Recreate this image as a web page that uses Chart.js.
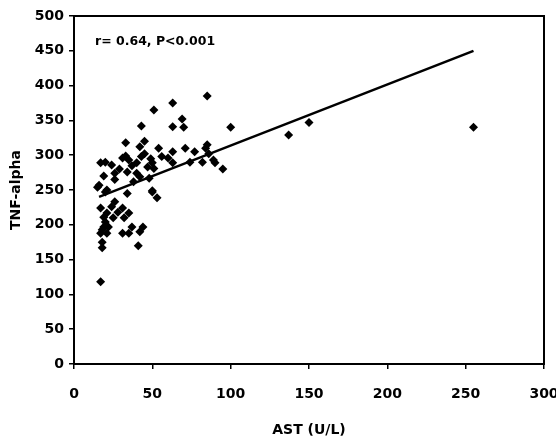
<!DOCTYPE html>
<html>
<head>
<meta charset="utf-8">
<script src="https://cdn.jsdelivr.net/npm/chart.js@4.4.0/dist/chart.umd.min.js"></script>
<style>
    html, body { margin: 0; padding: 0; background: #fff; }
    #wrap { width: 556px; height: 441px; position: relative; }
</style>
</head>
<body>
<div id="wrap"><canvas id="chartCanvas"></canvas></div>
<script>
// AST (U/L) vs TNF-alpha
const astValues = [
    85, 63, 51, 69, 63, 70, 43, 100, 33, 45, 85, 42, 54, 63, 71, 77, 84, 86,
    82, 89, 95, 90, 74, 63, 56, 60, 49, 50, 20, 17, 24, 31, 35, 37, 40, 47,
    51, 45, 43, 33, 29, 26, 19, 26, 34, 40, 42, 48, 38, 16, 21, 50,
    15, 20, 34, 50, 53, 17, 26, 24, 31, 28, 21, 35, 32, 25, 20, 22, 18, 17,
    21, 37, 31, 35, 44, 42, 18, 18, 41, 17, 19, 19,
    137, 150, 255
];
const tnfValues = [
    385, 375, 365, 352, 341, 340, 342, 340, 318, 320, 315, 312, 310, 305, 310, 305, 310, 302,
    290, 293, 280, 289, 290, 289, 298, 296, 295, 289, 290, 289, 286, 296, 293, 285, 289, 283,
    281, 302, 298, 299, 280, 274, 270, 265, 276, 274, 269, 267, 262, 257, 250, 249,
    254, 247, 245, 247, 239, 224, 233, 226, 224, 218, 217, 217, 210, 210, 204, 197, 193, 188,
    188, 197, 188, 188, 197, 190, 175, 167, 170, 118, 197, 211,
    329, 347, 340
];
// regression line ends
const fitX = [16, 255];
const fitY = [240, 450];
const xTicks = [0, 300, 50];
const yTicks = [0, 500, 50];
const annotation = 'r= 0.64, P<0.001';

const points = astValues.map((x, i) => ({ x: x, y: tnfValues[i] }));
const fitPoints = fitX.map((x, i) => ({ x: x, y: fitY[i] }));

const tickFont = { family: '"DejaVu Sans", sans-serif', size: 14, weight: 'bold' };
const titleFont = { family: '"DejaVu Sans", sans-serif', size: 14, weight: 'bold' };

// frame around plot + r/P text
const framePlugin = {
    id: 'frame',
    afterDraw(chart) {
        const a = chart.chartArea;
        const ctx = chart.ctx;
        ctx.save();
        ctx.strokeStyle = '#000';
        ctx.lineWidth = 2;
        ctx.strokeRect(a.left, a.top, a.right - a.left, a.bottom - a.top);
        ctx.fillStyle = '#000';
        ctx.font = 'bold 12.5px "DejaVu Sans", sans-serif';
        ctx.textBaseline = 'middle';
        ctx.fillText(annotation, 95, 42);
        ctx.restore();
    }
};

new Chart(document.getElementById('chartCanvas'), {
    type: 'scatter',
    data: {
        datasets: [
            {
                type: 'line',
                data: fitPoints,
                borderColor: '#000',
                borderWidth: 2.5,
                pointRadius: 0,
                fill: false
            },
            {
                data: points,
                pointStyle: 'rectRot',
                pointRadius: 4.5,
                backgroundColor: '#000',
                borderColor: '#000',
                borderWidth: 0
            }
        ]
    },
    options: {
        responsive: true,
        maintainAspectRatio: false,
        animation: false,
        layout: { padding: { left: 0, top: 16, right: 12, bottom: 0 } },
        plugins: {
            legend: { display: false },
            tooltip: { enabled: false }
        },
        scales: {
            x: {
                type: 'linear',
                min: xTicks[0],
                max: xTicks[1],
                afterFit: (s) => { s.height = 77; s.paddingLeft = 0; s.paddingRight = 0; },
                ticks: { stepSize: xTicks[2], color: '#000', font: tickFont, padding: 17, maxRotation: 0 },
                grid: { drawOnChartArea: false, drawTicks: true, tickLength: 5, color: '#000', lineWidth: 1.5 },
                border: { color: '#000', width: 2 },
                title: { display: true, text: 'AST (U/L)', color: '#000', font: titleFont, padding: 2 }
            },
            y: {
                type: 'linear',
                min: yTicks[0],
                max: yTicks[1],
                afterFit: (s) => { s.width = 74; s.paddingTop = 0; s.paddingBottom = 0; },
                ticks: { stepSize: yTicks[2], color: '#000', font: tickFont, padding: 5 },
                grid: { drawOnChartArea: false, drawTicks: true, tickLength: 5, color: '#000', lineWidth: 1.5 },
                border: { color: '#000', width: 2 },
                title: { display: true, text: 'TNF-alpha', color: '#000', font: titleFont, padding: 8 }
            }
        }
    },
    plugins: [framePlugin]
});
</script>
</body>
</html>
